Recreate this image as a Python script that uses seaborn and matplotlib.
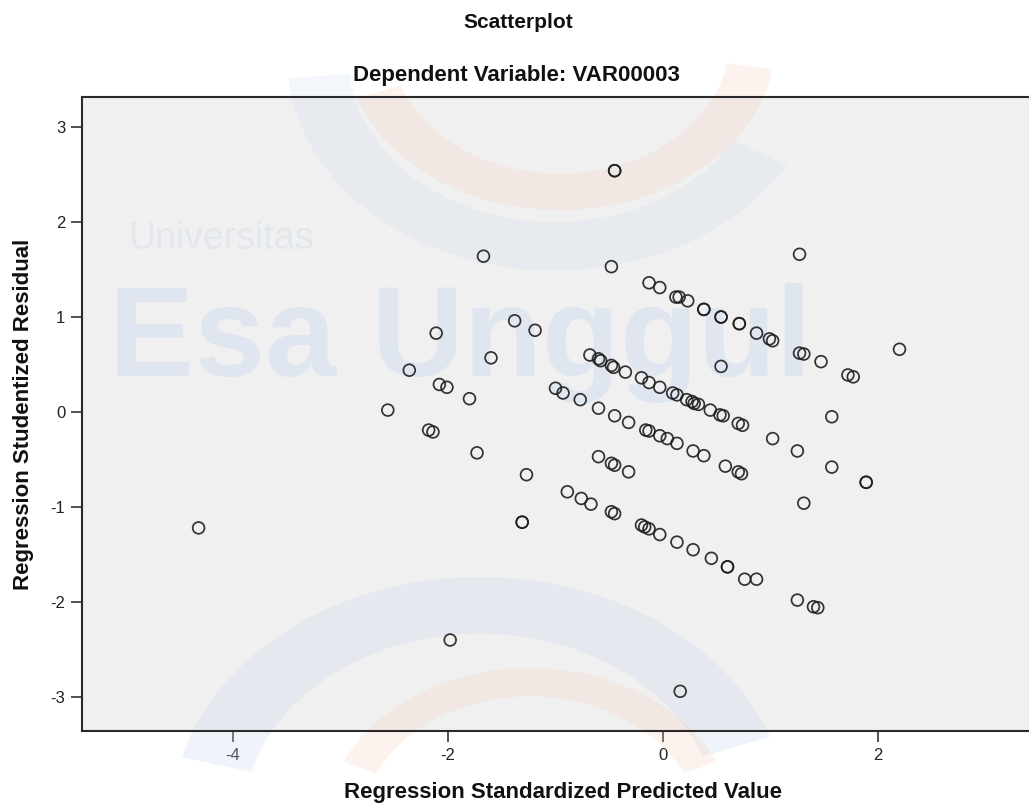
import numpy as np
import pandas as pd
import matplotlib
matplotlib.use("Agg")
import matplotlib.pyplot as plt
from matplotlib.patches import Wedge
import seaborn as sns

# ---- data ----
pred = [
    -4.32, -2.56, -2.36, -2.11, -2.08, -2.01, -2.18, -2.14, -1.80, -1.73,
    -1.98, -1.67, -1.60, -1.38, -1.19, -1.27, -1.31, -1.31, -0.45, -0.45,
    -0.48, 0.16, 1.27, 2.20, 0.54, 1.57, 1.02, 1.25, 1.57, 1.89, 1.89, 1.31,
    # band A
    -0.13, -0.03, 0.12, 0.15, 0.23, 0.38, 0.38, 0.54, 0.54, 0.71, 0.71,
    0.87, 0.99, 1.02, 1.27, 1.31, 1.47, 1.72, 1.77,
    # band B
    -0.68, -0.60, -0.58, -0.48, -0.46, -0.35, -0.20, -0.13, -0.03, 0.09,
    0.13, 0.22, 0.27, 0.29, 0.33, 0.44, 0.53, 0.56, 0.70, 0.74,
    # band C
    -1.00, -0.93, -0.77, -0.60, -0.45, -0.32, -0.16, -0.13, -0.03, 0.04,
    0.13, 0.28, 0.38, 0.58, 0.70, 0.73,
    # band C'
    -0.60, -0.48, -0.45, -0.32,
    # band D
    -0.89, -0.76, -0.67, -0.48, -0.45, -0.20, -0.17, -0.13, -0.03, 0.13,
    0.28, 0.45, 0.60, 0.60, 0.76, 0.87, 1.25, 1.40, 1.44,
]
resid = [
    -1.22, 0.02, 0.44, 0.83, 0.29, 0.26, -0.19, -0.21, 0.14, -0.43,
    -2.40, 1.64, 0.57, 0.96, 0.86, -0.66, -1.16, -1.16, 2.54, 2.54,
    1.53, -2.94, 1.66, 0.66, 0.48, -0.05, -0.28, -0.41, -0.58, -0.74, -0.74, -0.96,
    # band A
    1.36, 1.31, 1.21, 1.21, 1.17, 1.08, 1.08, 1.00, 1.00, 0.93, 0.93,
    0.83, 0.77, 0.75, 0.62, 0.61, 0.53, 0.39, 0.37,
    # band B
    0.60, 0.56, 0.54, 0.49, 0.47, 0.42, 0.36, 0.31, 0.26, 0.20,
    0.18, 0.13, 0.11, 0.09, 0.08, 0.02, -0.03, -0.04, -0.12, -0.14,
    # band C
    0.25, 0.20, 0.13, 0.04, -0.04, -0.11, -0.19, -0.20, -0.25, -0.28,
    -0.33, -0.41, -0.46, -0.57, -0.63, -0.65,
    # band C'
    -0.47, -0.54, -0.56, -0.63,
    # band D
    -0.84, -0.91, -0.97, -1.05, -1.07, -1.19, -1.21, -1.23, -1.29, -1.37,
    -1.45, -1.54, -1.63, -1.63, -1.76, -1.76, -1.98, -2.05, -2.06,
]
x_ticks = [-4, -2, 0, 2]
y_ticks = [-3, -2, -1, 0, 1, 2, 3]

title = "Scatterplot"
subtitle = "Dependent Variable: VAR00003"
x_label = "Regression Standardized Predicted Value"
y_label = "Regression Studentized Residual"

df = pd.DataFrame({"pred": pred, "resid": resid})

sns.set_theme(style="white")
plt.rcParams["font.family"] = ["Liberation Sans", "DejaVu Sans"]

W, H = 1029, 810
fig = plt.figure(figsize=(W / 100, H / 100), dpi=100)
fig.patch.set_facecolor("white")

# axes: left 82 px, top 97 px, bottom 731 px, right beyond the picture edge
left_px, right_px, top_px, bot_px = 82, 1045, 97, 731
ax = fig.add_axes([left_px / W, 1 - bot_px / H, (right_px - left_px) / W, (bot_px - top_px) / H])
ax.set_facecolor("#f0f0f0")

# ---- faint watermark, drawn below the markers ----
wm_blue = "#c9d9ee"
wm_orange = "#f6c9b5"
for (cx, cy, r, t1, t2, w, col, a) in [
    (555, 60, 0.26, 185, 330, 0.06, wm_blue, 0.22),
    (560, 40, 0.21, 200, 350, 0.045, wm_orange, 0.22),
    (480, 820, 0.30, 20, 165, 0.07, wm_blue, 0.28),
    (530, 830, 0.20, 25, 155, 0.035, wm_orange, 0.22),
]:
    wdg = Wedge((cx / W, 1 - cy / H), r, t1, t2, width=w, transform=fig.transFigure,
                facecolor=col, alpha=a, edgecolor="none", zorder=1, clip_on=False)
    ax.add_artist(wdg)

ax.text(-4.98, 1.72, "Universitas", fontsize=27, color="#e2e7ee", zorder=1,
        fontweight="light")
ax.text(-5.15, 0.38, "Esa Unggul", fontsize=92, color="#dfe6f0", zorder=1,
        fontweight="bold")

sns.scatterplot(data=df, x="pred", y="resid", ax=ax, marker="o", s=72,
                facecolor="none", edgecolor="#1e1e1e", linewidth=1.25,
                alpha=0.9, zorder=3, legend=False)

# limits from pixel geometry: 0 at x=663 px, 107.5 px/unit; 0 at y=412 px, 95 px/unit
ax.set_xlim((left_px - 663) / 107.5, (right_px - 663) / 107.5)
ax.set_ylim((412 - bot_px) / 95, (412 - top_px) / 95)
ax.set_xticks(x_ticks)
ax.set_yticks(y_ticks)
ax.set_xticklabels([str(t) for t in x_ticks])
ax.set_yticklabels([str(t) for t in y_ticks])
ax.tick_params(axis="both", which="major", direction="out", length=8, width=1.2,
               color="#333333", labelsize=12, labelcolor="#222222", pad=4,
               bottom=True, left=True)

for side in ["left", "bottom", "top"]:
    ax.spines[side].set_visible(True)
    ax.spines[side].set_color("#2a2a2a")
    ax.spines[side].set_linewidth(1.5)
    ax.spines[side].set_zorder(4)
ax.spines["right"].set_visible(False)

ax.set_xlabel(x_label, fontsize=16, fontweight="bold", color="#111111", labelpad=14)
ax.set_ylabel(y_label, fontsize=16, fontweight="bold", color="#111111", labelpad=12)

fig.text(518 / W, 1 - 22 / H, title, ha="center", va="center", fontsize=15,
         fontweight="bold", color="#111111")
fig.text(516 / W, 1 - 76 / H, subtitle, ha="center", va="center", fontsize=16,
         fontweight="bold", color="#111111")

fig.savefig("out.png", dpi=100)
